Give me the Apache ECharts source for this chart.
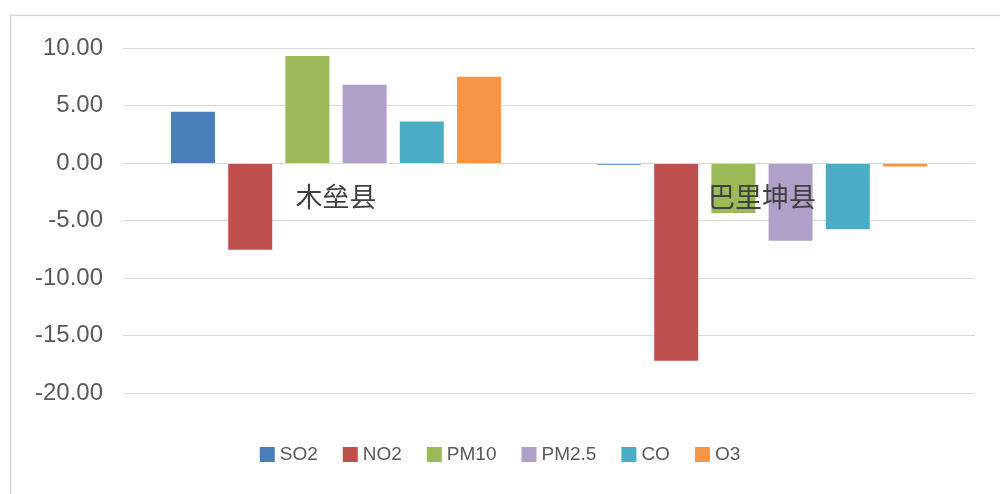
<!DOCTYPE html>
<html><head><meta charset="utf-8">
<script src="https://cdn.jsdelivr.net/npm/echarts@6/dist/echarts.min.js"></script>
<style>html,body{margin:0;padding:0;background:#fff}#c{width:1000px;height:494px}</style>
</head><body><div id="c"></div>
<script>
const categories = ['木垒县', '巴里坤县'];
const seriesNames = ['SO2', 'NO2', 'PM10', 'PM2.5', 'CO', 'O3'];
const so2 = [4.45, -0.15];
const no2 = [-7.55, -17.2];
const pm10 = [9.3, -4.35];
const pm25 = [6.8, -6.75];
const co = [3.6, -5.75];
const o3 = [7.5, -0.3];
const yTicks = [-20, -15, -10, -5, 0, 5, 10];
const colors = ['#4a7ebb', '#c0504d', '#9bbb59', '#b09fc8', '#4bacc6', '#f79646'];
const values = [so2, no2, pm10, pm25, co, o3];

const chart = echarts.init(document.getElementById('c'), null, {renderer: 'canvas'});
chart.setOption({
  animation: false,
  color: colors,
  textStyle: {fontFamily: 'Liberation Sans, Noto Sans CJK SC, sans-serif'},
  graphic: [{
    type: 'rect', left: 8, top: 13, silent: true,
    shape: {width: 1200, height: 600},
    style: {fill: 'none', stroke: '#d4d4d4', lineWidth: 1.5}
  }],
  grid: {left: 123, right: 25, top: 48, bottom: 101},
  legend: {
    bottom: 25, left: 'center',
    itemWidth: 15, itemHeight: 15, itemGap: 25,
    icon: 'rect',
    textStyle: {fontSize: 19, color: '#595959'},
    data: seriesNames
  },
  xAxis: {
    type: 'category', data: categories, z: 10,
    axisLine: {onZero: true, lineStyle: {color: '#d9d9d9', width: 1}},
    axisTick: {show: false},
    axisLabel: {fontSize: 27, color: '#404040', margin: -210, fontFamily: 'Noto Sans CJK SC'}
  },
  yAxis: {
    type: 'value', min: yTicks[0], max: yTicks[yTicks.length - 1], interval: 5,
    axisLine: {show: false}, axisTick: {show: false},
    splitLine: {lineStyle: {color: '#d9d9d9', width: 1}},
    axisLabel: {fontSize: 24, color: '#595959', margin: 20, formatter: v => v.toFixed(2)}
  },
  series: seriesNames.map((n, i) => ({
    name: n, type: 'bar', data: values[i],
    barWidth: 44, barGap: '30%'
  }))
});
</script></body></html>
